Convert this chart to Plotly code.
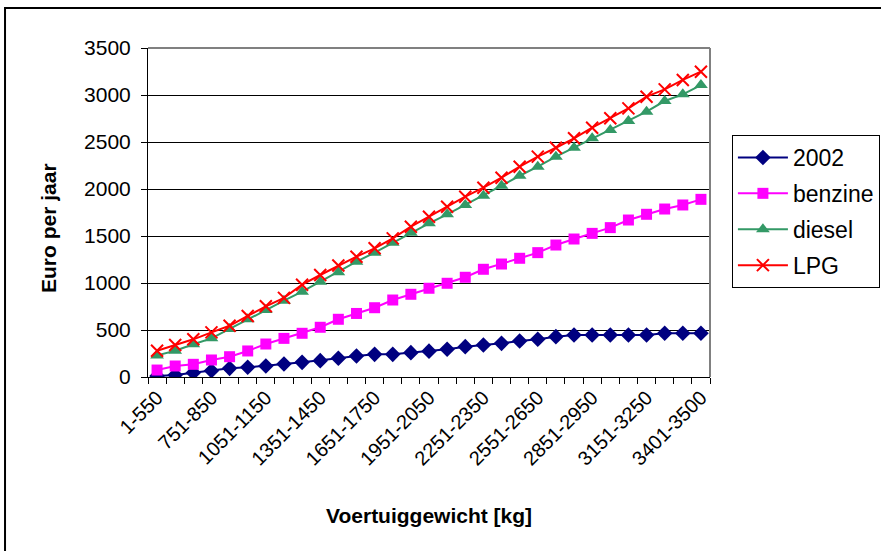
import plotly.graph_objects as go

# Weight classes (kg)
categories = [
    "1-550", "551-650", "651-750", "751-850", "851-950", "951-1050",
    "1051-1150", "1151-1250", "1251-1350", "1351-1450", "1451-1550",
    "1551-1650", "1651-1750", "1751-1850", "1851-1950", "1951-2050",
    "2051-2150", "2151-2250", "2251-2350", "2351-2450", "2451-2550",
    "2551-2650", "2651-2750", "2751-2850", "2851-2950", "2951-3050",
    "3051-3150", "3151-3250", "3251-3350", "3351-3400", "3401-3500",
]

# Annual road tax in euro per weight class
tax_2002 = [10, 21, 46, 67, 92, 103, 117, 138, 156, 174, 199, 223, 241, 241, 259, 275,
            295, 323, 340, 358, 383, 401, 429, 447, 447, 447, 447, 447, 465, 465, 465]
benzine = [74, 117, 135, 181, 216, 277, 351, 411, 465, 529, 614, 676, 737, 819, 880, 944,
           997, 1061, 1146, 1202, 1263, 1323, 1404, 1468, 1528, 1589, 1670, 1731, 1787, 1830, 1890]
diesel = [230, 280, 348, 411, 511, 614, 713, 812, 908, 1014, 1114, 1227, 1323, 1429, 1535, 1635,
          1731, 1830, 1929, 2035, 2141, 2237, 2344, 2439, 2539, 2628, 2723, 2823, 2936, 3007, 3106]
lpg = [280, 340, 401, 475, 545, 649, 752, 842, 982, 1085, 1186, 1280, 1369, 1475, 1599, 1705,
       1812, 1918, 2014, 2120, 2237, 2344, 2439, 2539, 2652, 2752, 2858, 2982, 3060, 3160, 3248]

y_ticks = [0, 500, 1000, 1500, 2000, 2500, 3000, 3500]
label_step = 3

series = [
    ("2002", tax_2002, "#000080", "diamond", 12),
    ("benzine", benzine, "#FF00FF", "square", 11),
    ("diesel", diesel, "#339966", "triangle-up", 12),
    ("LPG", lpg, "#FF0000", "x-thin", 12),
]

xs = list(range(len(categories)))

fig = go.Figure()
for name, vals, color, symbol, size in series:
    marker = dict(symbol=symbol, size=size, color=color)
    if symbol == "x-thin":
        marker["line"] = dict(color=color, width=2)
    fig.add_trace(go.Scatter(
        x=xs, y=vals, name=name, legendgroup=name, mode="lines+markers",
        line=dict(color=color, width=2), marker=marker,
    ))

font_family = "Liberation Sans, Arial, sans-serif"

fig.update_layout(
    width=881, height=551,
    margin=dict(l=148, r=171, t=48, b=174, autoexpand=False),
    paper_bgcolor="white", plot_bgcolor="white",
    font=dict(family=font_family, color="black"),
    showlegend=True,
    legend=dict(
        x=1.039, xanchor="left", y=0.7356, yanchor="top",
        bordercolor="black", borderwidth=1, bgcolor="white",
        font=dict(size=23, family=font_family),
        tracegroupgap=3, itemwidth=50,
    ),
    xaxis=dict(
        range=[-0.5, len(categories) - 0.5],
        tickmode="array",
        tickvals=xs[::label_step],
        ticktext=categories[::label_step],
        tickangle=-45, ticks="",
        tickfont=dict(size=20),
        showgrid=False, zeroline=False,
        showline=True, linecolor="black", linewidth=1, mirror=False,
        minor=dict(ticks="outside", tickmode="linear", tick0=-0.5, dtick=1,
                   ticklen=6, tickcolor="black", tickwidth=1, showgrid=False),
    ),
    yaxis=dict(
        range=[0, 3500],
        tickmode="array", tickvals=y_ticks,
        ticks="outside", ticklen=6, tickcolor="black",
        tickfont=dict(size=21), ticklabelstandoff=6,
        showgrid=True, gridcolor="black", gridwidth=1,
        zeroline=False,
        showline=True, linecolor="black", linewidth=1,
    ),
    shapes=[
        # plot-area frame (grey top and right edges)
        dict(type="line", xref="paper", yref="paper", x0=0, x1=1, y0=1, y1=1,
             line=dict(color="#808080", width=2)),
        dict(type="line", xref="paper", yref="paper", x0=1, x1=1, y0=0, y1=1,
             line=dict(color="#808080", width=2)),
        # outer chart border
        dict(type="rect", xref="paper", yref="paper",
             x0=-0.2544, x1=1.32, y0=-0.55, y1=1.1216,
             line=dict(color="black", width=2), layer="below"),
    ],
    annotations=[
        dict(text="<b>Voertuiggewicht [kg]</b>", xref="paper", yref="paper",
             x=0.5, y=(377 - 515) / 329, xanchor="center", yanchor="middle",
             showarrow=False, font=dict(size=21)),
        dict(text="<b>Euro per jaar</b>", xref="paper", yref="paper",
             x=(48 - 148) / 562, y=(377 - 228) / 329, xanchor="center", yanchor="middle",
             textangle=-90, showarrow=False, font=dict(size=21)),
    ],
)

fig.write_html("out.html")
